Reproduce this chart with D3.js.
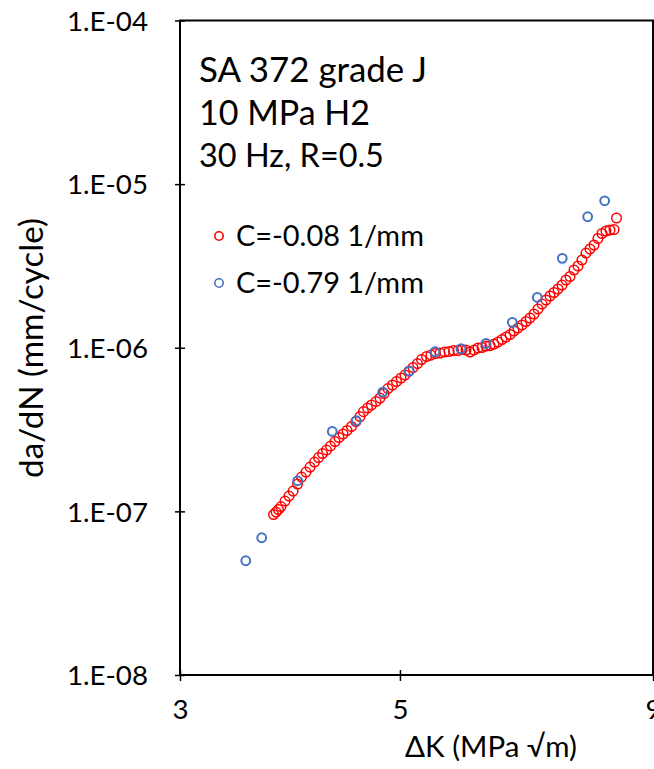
<!DOCTYPE html>
<html>
<head>
<meta charset="utf-8">
<script src="https://cdn.jsdelivr.net/npm/d3@7"></script>
<style>
  html, body { margin: 0; padding: 0; background: #fff; }
  svg { display: block; }
  text { font-family: Lato, "Open Sans", sans-serif; fill: #000; }
</style>
</head>
<body>
<svg id="chart" width="654" height="769"></svg>
<script>
// ---------------- DATA ----------------
const xTickValues = [3, 5, 9];
const yTickValues = [1e-8, 1e-7, 1e-6, 1e-5, 1e-4];
const yTickLabels = ["1.E-08", "1.E-07", "1.E-06", "1.E-05", "1.E-04"];

// Series 1: C = -0.08 1/mm (red)
const redDK = [3.728, 3.750, 3.771, 3.793, 3.829, 3.864, 3.901, 3.942, 3.978, 4.020,
  4.058, 4.100, 4.139, 4.177, 4.216, 4.255, 4.300, 4.340, 4.381, 4.422,
  4.468, 4.514, 4.557, 4.594, 4.637, 4.680, 4.730, 4.774, 4.819, 4.863,
  4.914, 4.960, 5.013, 5.059, 5.106, 5.154, 5.208, 5.257, 5.319, 5.374,
  5.430, 5.488, 5.546, 5.604, 5.662, 5.722, 5.776, 5.830, 5.884, 5.939,
  5.994, 6.050, 6.106, 6.164, 6.222, 6.279, 6.337, 6.397, 6.457, 6.517,
  6.577, 6.639, 6.702, 6.764, 6.827, 6.891, 6.955, 7.019, 7.085, 7.151,
  7.218, 7.286, 7.353, 7.422, 7.492, 7.561, 7.631, 7.703, 7.775, 7.848,
  7.920, 7.994, 8.069, 8.144, 8.221, 8.269];
const redDadN = [9.56e-8, 9.90e-8, 1.026e-7, 1.070e-7, 1.156e-7, 1.240e-7, 1.330e-7, 1.469e-7, 1.620e-7, 1.739e-7,
  1.865e-7, 2.00e-7, 2.132e-7, 2.256e-7, 2.370e-7, 2.507e-7, 2.671e-7, 2.826e-7, 2.969e-7, 3.119e-7,
  3.30e-7, 3.54e-7, 3.80e-7, 4.07e-7, 4.28e-7, 4.47e-7, 4.69e-7, 4.93e-7, 5.25e-7, 5.63e-7,
  5.92e-7, 6.21e-7, 6.53e-7, 6.81e-7, 7.20e-7, 7.57e-7, 8.00e-7, 8.47e-7, 8.84e-7, 9.02e-7,
  9.21e-7, 9.28e-7, 9.41e-7, 9.48e-7, 9.61e-7, 9.61e-7, 9.75e-7, 9.68e-7, 9.41e-7, 9.68e-7,
  9.96e-7, 1.003e-6, 1.024e-6, 1.031e-6, 1.053e-6, 1.083e-6, 1.122e-6, 1.163e-6, 1.204e-6, 1.265e-6,
  1.319e-6, 1.377e-6, 1.446e-6, 1.519e-6, 1.607e-6, 1.724e-6, 1.849e-6, 1.957e-6, 2.070e-6, 2.175e-6,
  2.285e-6, 2.417e-6, 2.593e-6, 2.724e-6, 2.985e-6, 3.158e-6, 3.437e-6, 3.791e-6, 4.011e-6, 4.244e-6,
  4.650e-6, 4.99e-6, 5.17e-6, 5.24e-6, 5.28e-6, 6.21e-6];

// Series 2: C = -0.79 1/mm (blue)
const blueDK = [3.495, 3.627, 3.943, 4.273, 4.518, 4.804, 5.110, 5.424, 5.762, 6.107,
  6.491, 6.879, 7.290, 7.733, 8.045];
const blueDadN = [4.99e-8, 6.90e-8, 1.538e-7, 3.08e-7, 3.58e-7, 5.36e-7, 7.20e-7, 9.45e-7, 9.86e-7, 1.064e-6,
  1.43e-6, 2.03e-6, 3.52e-6, 6.32e-6, 7.91e-6];

const seriesNames = ["C=-0.08 1/mm", "C=-0.79 1/mm"];
const seriesColors = ["#FF0000", "#4472C4"];
const annotationLines = ["SA 372 grade J", "10 MPa H2", "30 Hz, R=0.5"];
const xTitle = "\u0394K (MPa \u221Am)";
const yTitle = "da/dN (mm/cycle)";

// ---------------- LAYOUT ----------------
const svg = d3.select("#chart");
const L = 180, R = 653, T = 20.5, B = 675;
const x = d3.scaleLog().domain([3, 9]).range([L, R]);
const y = d3.scaleLog().domain([1e-8, 1e-4]).range([B, T]);

function fitWidth(sel, target) {
  const base = 20;
  sel.style("font-size", base + "px");
  const w = sel.node().getBBox().width;
  sel.style("font-size", (base * target / w) + "px");
}

// plot frame
svg.append("rect")
  .attr("x", L).attr("y", T).attr("width", R - L).attr("height", B - T)
  .attr("fill", "none").attr("stroke", "#000").attr("stroke-width", 2);

// x axis
const xAxis = svg.append("g").attr("transform", `translate(0,${B})`)
  .call(d3.axisBottom(x).tickValues(xTickValues).tickFormat(d3.format("d")).tickSizeOuter(0));
xAxis.select(".domain").remove();
xAxis.selectAll(".tick line").attr("y1", -5).attr("y2", 6).attr("stroke", "#000").attr("stroke-width", 1.5);
xAxis.selectAll(".tick text").attr("y", 34).attr("dy", "0.35em")
  .style("font-family", "Lato, 'Open Sans', sans-serif").style("font-size", "28px").attr("fill", "#000");

// y axis
const yAxis = svg.append("g").attr("transform", `translate(${L},0)`)
  .call(d3.axisLeft(y).tickValues(yTickValues)
    .tickFormat((d, i) => yTickLabels[i]).tickSizeOuter(0));
yAxis.select(".domain").remove();
yAxis.selectAll(".tick line").attr("x1", -5).attr("x2", 5).attr("stroke", "#000").attr("stroke-width", 1.5);
const yLabels = yAxis.selectAll(".tick text").attr("x", -32).attr("dy", "0.35em")
  .style("font-family", "Lato, 'Open Sans', sans-serif").attr("fill", "#000");
{
  const first = yLabels.filter((d, i) => i === 0);
  fitWidth(first, 81);
  const fs = first.style("font-size");
  yLabels.style("font-size", fs);
  xAxis.selectAll(".tick text").style("font-size", fs);
}

// data points
const redData = redDK.map((k, i) => ({ k, v: redDadN[i] }));
const blueData = blueDK.map((k, i) => ({ k, v: blueDadN[i] }));

svg.append("g").selectAll("circle").data(redData).join("circle")
  .attr("cx", d => x(d.k)).attr("cy", d => y(d.v)).attr("r", 4.8)
  .attr("fill", "none").attr("stroke", seriesColors[0]).attr("stroke-width", 1.5);

svg.append("g").selectAll("circle").data(blueData).join("circle")
  .attr("cx", d => x(d.k)).attr("cy", d => y(d.v)).attr("r", 4.4)
  .attr("fill", "none").attr("stroke", seriesColors[1]).attr("stroke-width", 2);

// annotation
const annY = [82, 125, 167];
annotationLines.forEach((t, i) => {
  const s = svg.append("text").attr("x", 199).attr("y", annY[i]).text(t);
  fitWidth(s, [228, 171, 185][i]);
});

// legend
const legY = [236, 283];
seriesNames.forEach((name, i) => {
  svg.append("circle").attr("cx", 219).attr("cy", legY[i]).attr("r", 4.2)
    .attr("fill", "none").attr("stroke", seriesColors[i]).attr("stroke-width", 1.6);
  const s = svg.append("text").attr("x", 236).attr("y", legY[i]).attr("dy", "0.35em").text(name);
  fitWidth(s, 188);
});

// axis titles
const xt = svg.append("text").attr("x", 491).attr("y", 747).attr("dy", "0.35em")
  .attr("text-anchor", "middle").text(xTitle);
fitWidth(xt, 172);

const yt = svg.append("text")
  .attr("transform", "translate(31,348) rotate(-90)")
  .attr("text-anchor", "middle").attr("dy", "0.35em").text(yTitle);
fitWidth(yt, 260);
</script>
</body>
</html>
